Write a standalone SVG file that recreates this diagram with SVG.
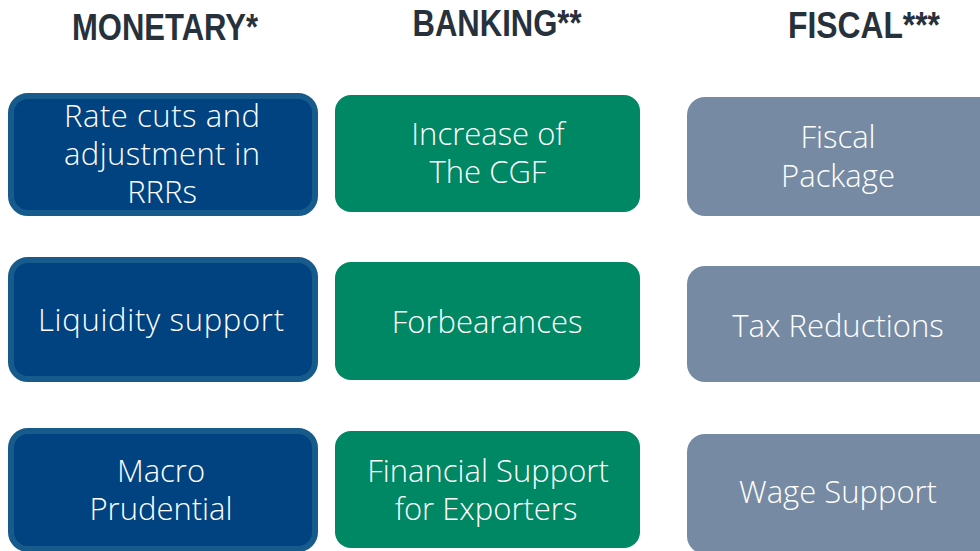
<svg xmlns="http://www.w3.org/2000/svg" width="980" height="551" viewBox="0 0 980 551">
<style>
.hdr{font-family:"Liberation Sans",Arial,sans-serif;font-weight:bold;font-size:36px;fill:#27313c;text-anchor:middle}
.lbl{font-family:"Open Sans","Liberation Sans",sans-serif;font-weight:300;font-size:31px;fill:#ffffff;text-anchor:middle}
.mon{fill:#014380;stroke:#175a8c;stroke-width:6}
.bank{fill:#008763}
.fis{fill:#768ba3}
</style>
<rect width="980" height="551" fill="#ffffff"/>
<g id="headers">
<text class="hdr" x="165" y="40" textLength="186" lengthAdjust="spacingAndGlyphs">MONETARY*</text>
<text class="hdr" x="497" y="36" textLength="169" lengthAdjust="spacingAndGlyphs">BANKING**</text>
<text class="hdr" x="864" y="38" textLength="152" lengthAdjust="spacingAndGlyphs">FISCAL***</text>
</g>
<g id="m1"><rect class="mon" x="11" y="96" width="304" height="117" rx="17"/>
<text class="lbl" x="162" y="127" textLength="196" lengthAdjust="spacing">Rate cuts and</text><text class="lbl" x="162" y="165" textLength="196" lengthAdjust="spacing">adjustment in</text><text class="lbl" x="162" y="203">RRRs</text></g>
<g id="m2"><rect class="mon" x="11" y="260" width="304" height="119" rx="17"/>
<text class="lbl" x="161" y="331" textLength="246" lengthAdjust="spacing">Liquidity support</text></g>
<g id="m3"><rect class="mon" x="11" y="431" width="304" height="118" rx="17"/>
<text class="lbl" x="161" y="482">Macro</text><text class="lbl" x="161" y="520">Prudential</text></g>
<g id="b1"><rect class="bank" x="335" y="95" width="305" height="117" rx="16"/>
<text class="lbl" x="488" y="145">Increase of</text><text class="lbl" x="488" y="183">The CGF</text></g>
<g id="b2"><rect class="bank" x="335" y="262" width="305" height="118" rx="16"/>
<text class="lbl" x="487" y="333">Forbearances</text></g>
<g id="b3"><rect class="bank" x="335" y="431" width="305" height="117" rx="16"/>
<text class="lbl" x="488" y="482">Financial Support</text><text class="lbl" x="486" y="520">for Exporters</text></g>
<g id="f1"><rect class="fis" x="687" y="97" width="310" height="119" rx="18"/>
<text class="lbl" x="838" y="148">Fiscal</text><text class="lbl" x="838" y="187">Package</text></g>
<g id="f2"><rect class="fis" x="687" y="266" width="310" height="116" rx="18"/>
<text class="lbl" x="838" y="337">Tax Reductions</text></g>
<g id="f3"><rect class="fis" x="687" y="434" width="310" height="120" rx="18"/>
<text class="lbl" x="838" y="503">Wage Support</text></g>
<g id="connectors"/>
</svg>
